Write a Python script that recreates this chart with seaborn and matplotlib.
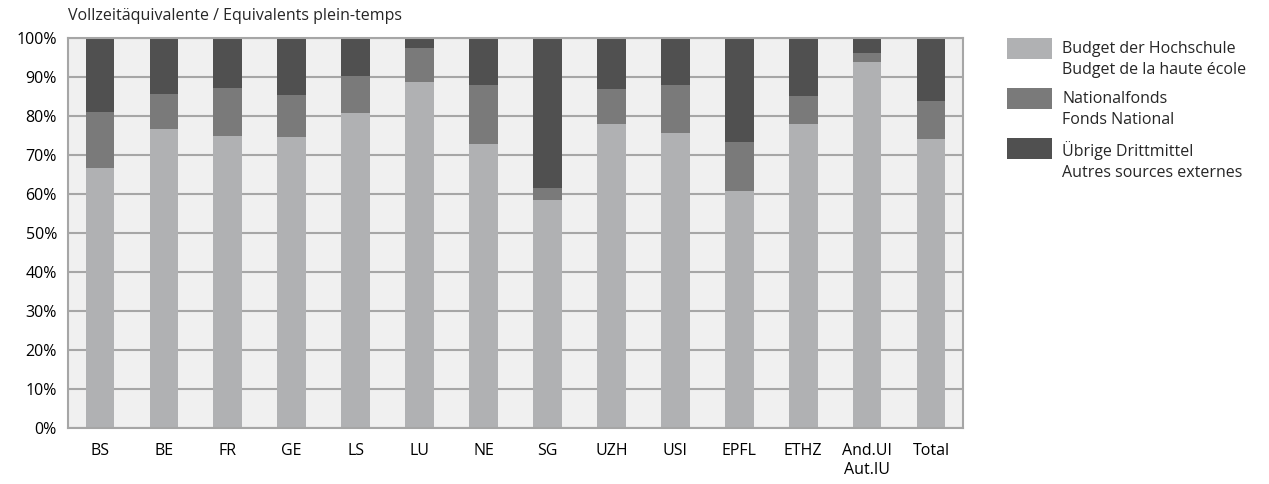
import matplotlib
matplotlib.use("Agg")
import matplotlib.pyplot as plt
import seaborn as sns
import pandas as pd
from matplotlib.patches import Rectangle
from matplotlib.ticker import PercentFormatter

# shares in percent
hochschulen = ["BS", "BE", "FR", "GE", "LS", "LU", "NE", "SG", "UZH", "USI",
               "EPFL", "ETHZ", "And.UI\nAut.IU", "Total"]
budget = [66.7, 76.7, 74.9, 74.6, 80.8, 88.7, 72.8, 58.5, 77.9, 75.6, 60.8, 77.9, 93.8, 74.1]
nationalfonds = [14.3, 8.9, 12.3, 10.8, 9.5, 8.7, 15.1, 3.0, 9.0, 12.3, 12.5, 7.2, 2.4, 9.7]
uebrige = [round(100 - b - n, 1) for b, n in zip(budget, nationalfonds)]

labels = ["Budget der Hochschule\nBudget de la haute école",
          "Nationalfonds\nFonds National",
          "Übrige Drittmittel\nAutres sources externes"]
colors = ["#b0b1b3", "#7a7a7a", "#505050"]

df = pd.DataFrame({"hs": hochschulen, "budget": budget,
                   "nf": nationalfonds, "other": uebrige})
df["cum_nf"] = df["budget"] + df["nf"]
df["cum_all"] = df["cum_nf"] + df["other"]

sns.set_style("white")
plt.rcParams["font.family"] = ["Open Sans", "DejaVu Sans"]

W, H = 1269, 484
fig = plt.figure(figsize=(W / 100, H / 100), dpi=100)
ax = fig.add_axes([68 / W, 1 - 428 / H, (963 - 68) / W, (428 - 38) / H])
ax.set_facecolor("#f0f0f0")
ax.set_axisbelow(True)
ax.yaxis.grid(True, color="#a6a6a6", linewidth=1.5)

# stacked bars drawn back to front from cumulative sums
for col, c in zip(["cum_all", "cum_nf", "budget"], colors[::-1]):
    sns.barplot(data=df, x="hs", y=col, color=c, width=0.45,
                saturation=1, linewidth=0, edgecolor="none", ax=ax, zorder=2)

ax.set_ylim(0, 100)
ax.set_xlim(-0.5, len(hochschulen) - 0.5)
ax.set_yticks(range(0, 101, 10))
ax.yaxis.set_major_formatter(PercentFormatter(decimals=0))
ax.set_xlabel("")
ax.set_ylabel("")
ax.tick_params(axis="both", labelsize=11.5, colors="black", length=0)
ax.tick_params(axis="x", pad=11)
ax.tick_params(axis="y", pad=8)
for s in ax.spines.values():
    s.set_color("#a6a6a6")
    s.set_linewidth(1.5)

fig.text(68 / W, 1 - 16 / H, "Vollzeitäquivalente / Equivalents plein-temps",
         fontsize=11.5, va="center", ha="left")

# legend: swatch aligned with the first text line
for i, (lab, c) in enumerate(zip(labels, colors)):
    top = 38 + i * 50
    fig.add_artist(Rectangle((1007 / W, 1 - (top + 21) / H), 45 / W, 21 / H,
                             facecolor=c, edgecolor="none",
                             transform=fig.transFigure))
    fig.text(1062 / W, 1 - (top + 3) / H, lab, fontsize=11.5, va="top",
             ha="left", linespacing=1.45)

fig.savefig("out.png", dpi=100)
